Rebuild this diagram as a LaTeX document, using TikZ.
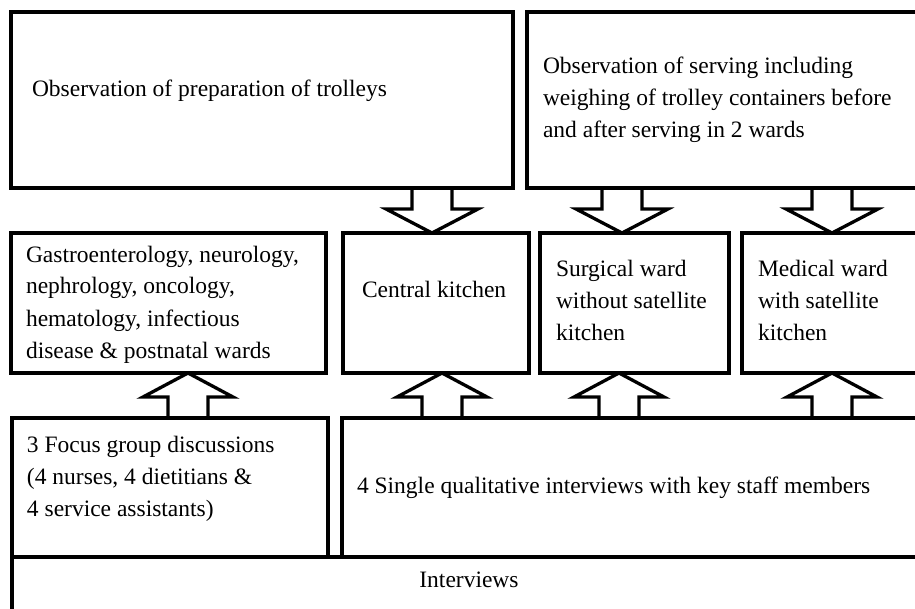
\documentclass[tikz,border=0pt]{standalone}
\usepackage{fontspec}
\setmainfont{Liberation Serif}
\usetikzlibrary{calc}
\newcommand{\blockdn}[3]{\draw[barrow] let \p1=(#1 |- #2.south), \p2=(#1 |- #3.north) in
  (\x1-20pt,\y1) -- (\x1-20pt,\y2+24pt) -- (\x1-46pt,\y2+24pt) -- (\x1,\y2) -- (\x1+46pt,\y2+24pt) -- (\x1+20pt,\y2+24pt) -- (\x1+20pt,\y1);}
\newcommand{\blockup}[3]{\draw[barrow] let \p1=(#1 |- #2.north), \p2=(#1 |- #3.south) in
  (\x1-20pt,\y1) -- (\x1-20pt,\y2-24pt) -- (\x1-45pt,\y2-24pt) -- (\x1,\y2) -- (\x1+45pt,\y2-24pt) -- (\x1+20pt,\y2-24pt) -- (\x1+20pt,\y1);}
\begin{document}
\begin{tikzpicture}[x=1pt,y=-1pt,
  box/.style={draw=black, line width=3.5pt, rectangle, inner sep=0pt, outer sep=0pt},
  txt/.style={inner sep=0pt, outer sep=0pt, align=left, font=\fontsize{23.5}{32}\selectfont},
  barrow/.style={draw=black, line width=3.3pt, line join=miter}]
\clip (0,0) rectangle (915,609);
\fill[white] (0,0) rectangle (915,609);
% boxes
\node[box, minimum width=502pt, minimum height=176pt] (obsprep) at (262,100) {};
\node[box, minimum width=408pt, minimum height=176pt] (obsserv) at (731,100) {};
\node[box, minimum width=315pt, minimum height=140pt] (gastro) at (168.5,303) {};
\node[box, minimum width=186pt, minimum height=140pt] (central) at (436,303) {};
\node[box, minimum width=189pt, minimum height=140pt] (surgical) at (634.5,303) {};
\node[box, minimum width=193pt, minimum height=140pt] (medical) at (838.5,303) {};
\node[box, minimum width=316pt, minimum height=139pt] (focus) at (170,487.5) {};
\node[box, minimum width=593pt, minimum height=139pt] (single) at (638.5,487.5) {};
\node[box, minimum width=923pt, minimum height=83pt] (interviews) at (473.5,598.5) {};
% texts
\node[txt, anchor=base west] (t1) at (32,97) {Observation of preparation of trolleys};
\node[txt, anchor=north west] (t2) at (543,51.6) {\strut Observation of serving including\\\strut weighing of trolley containers before\\\strut and after serving in 2 wards};
\node[txt, anchor=north west] (t3) at (26,239.6) {\strut Gastroenterology, neurology,\\\strut nephrology, oncology,\\\strut hematology, infectious\\\strut disease \& postnatal wards};
\node[txt, anchor=base west] (t4) at (362,298) {Central kitchen};
\node[txt, anchor=north west] (t5) at (556,254.6) {\strut Surgical ward\\\strut without satellite\\\strut kitchen};
\node[txt, anchor=north west] (t6) at (758,254.6) {\strut Medical ward\\\strut with satellite\\\strut kitchen};
\node[txt, anchor=north west] (t7) at (27,429.6) {\strut 3 Focus group discussions\\\strut (4 nurses, 4 dietitians \&\\\strut 4 service assistants)};
\node[txt, anchor=base west] (t8) at (357,493) {4 Single qualitative interviews with key staff members};
\node[txt, anchor=base] (t9) at (469,587) {Interviews};
% arrow positions
\coordinate (a1) at (432,0);
\coordinate (a2) at (622,0);
\coordinate (a3) at (832,0);
\coordinate (u1) at (188,0);
\coordinate (u2) at (442,0);
\coordinate (u3) at (619,0);
\coordinate (u4) at (832,0);
\blockdn{a1}{obsprep}{central}
\blockdn{a2}{obsserv}{surgical}
\blockdn{a3}{obsserv}{medical}
\blockup{u1}{focus}{gastro}
\blockup{u2}{single}{central}
\blockup{u3}{single}{surgical}
\blockup{u4}{single}{medical}
\end{tikzpicture}
\end{document}
